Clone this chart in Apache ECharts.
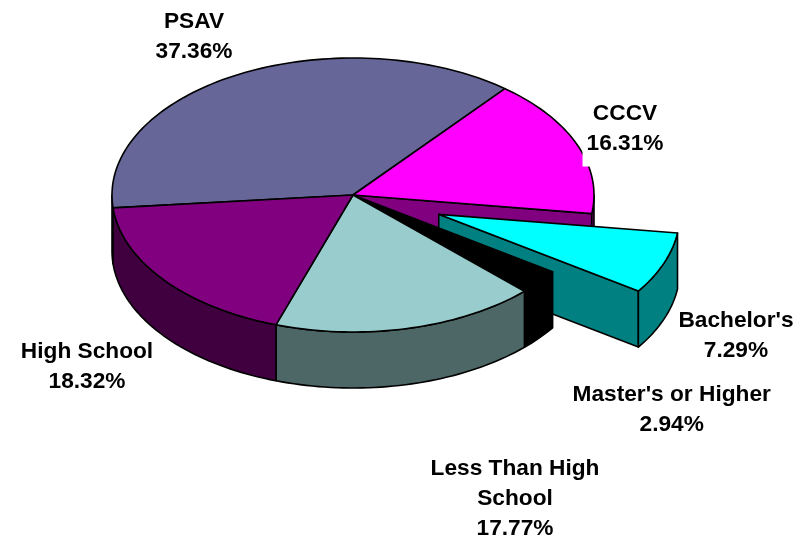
<!DOCTYPE html>
<html>
<head>
<meta charset="utf-8">
<style>html,body{margin:0;padding:0;background:#fff}#chart{width:807px;height:540px}</style>
<script src="https://cdn.jsdelivr.net/npm/echarts@6/dist/echarts.min.js"></script>
</head>
<body>
<div id="chart"></div>
<script>
// Data, in painting order (back to front, clockwise from the start angle)
const categories = ['PSAV', 'CCCV', "Bachelor's", "Master's or Higher", 'Less Than High\nSchool', 'High School'];
const shares = [37.36, 16.31, 7.29, 2.94, 17.77, 18.32];
const explodedCategory = "Bachelor's";

// Styles
const topColors = ['#666699', '#FF00FF', '#00FFFF', '#000000', '#99CCCC', '#800080'];
const wallColors = ['#333366', '#800080', '#008080', '#000000', '#4D6666', '#400040'];

// Layout of the pseudo-3D projection
const CX = 353, CY = 195, RX = 241, RY = 137, DEPTH = 56;
const START_DEG = 264.6;
const EXPLODE_X = 0.381, EXPLODE_Y = 0.395;
const FONT = "bold 22.7px 'Liberation Sans', Arial, sans-serif";
const labelAnchors = [[194, 36.5], [625, 128.5], [736, 336], [671.7, 410], [515, 499], [87, 367]];

const total = shares.reduce((a, b) => a + b, 0);
const toRad = d => d * Math.PI / 180;

function rim(deg, ox, oy, dz) {
  const t = toRad(deg);
  return [CX + ox + RX * Math.sin(t), CY + oy + dz - RY * Math.cos(t)];
}
function arc(from, to, ox, oy, dz) {
  const pts = [], n = Math.max(2, Math.ceil(Math.abs(to - from) / 1.5));
  for (let i = 0; i <= n; i++) pts.push(rim(from + (to - from) * i / n, ox, oy, dz));
  return pts;
}
function poly(points, fill) {
  return {
    type: 'polygon',
    shape: { points },
    style: { fill, stroke: '#000', lineWidth: 1.6, lineJoin: 'round' }
  };
}

function renderItem(params, api) {
  const idx = params.dataIndex;
  let before = 0;
  for (let i = 0; i < idx; i++) before += shares[i];
  const a0 = START_DEG + before / total * 360;
  const a1 = a0 + shares[idx] / total * 360;
  const mid = toRad((a0 + a1) / 2);
  const exploded = categories[idx] === explodedCategory;
  const ox = exploded ? EXPLODE_X * RX * Math.sin(mid) : 0;
  const oy = exploded ? -EXPLODE_Y * RY * Math.cos(mid) : 0;
  const children = [];
  const centre = [CX + ox, CY + oy];

  // radial wall on the trailing edge, when it faces the viewer
  const endNorm = ((a1 % 360) + 360) % 360;
  if (endNorm > 0 && endNorm < 180) {
    const p = rim(a1, ox, oy, 0);
    children.push(poly([centre, p, [p[0], p[1] + DEPTH], [centre[0], centre[1] + DEPTH]], wallColors[idx]));
  }
  // outer wall: the part of the rim on the front half (90..270, also +360)
  [[90, 270], [450, 630]].forEach(function (win) {
    const from = Math.max(a0, win[0]), to = Math.min(a1, win[1]);
    if (to > from) {
      const upper = arc(from, to, ox, oy, 0);
      const lower = arc(to, from, ox, oy, DEPTH);
      children.push(poly(upper.concat(lower), wallColors[idx]));
    }
  });
  // top face
  children.push(poly([centre].concat(arc(a0, a1, ox, oy, 0)), topColors[idx]));
  // label
  const style = {
    text: categories[idx] + '\n' + shares[idx].toFixed(2) + '%',
    font: FONT, fill: '#000', align: 'center', verticalAlign: 'middle', lineHeight: 30
  };
  if (categories[idx] === 'CCCV') { style.backgroundColor = '#fff'; style.padding = [8, 4]; }
  children.push({ type: 'text', x: labelAnchors[idx][0], y: labelAnchors[idx][1], style });
  return { type: 'group', children };
}

const chart = echarts.init(document.getElementById('chart'));
chart.setOption({
  animation: false,
  backgroundColor: '#fff',
  series: [{
    type: 'custom',
    coordinateSystem: 'none',
    silent: true,
    renderItem,
    data: categories.map((c, i) => ({ name: c, value: shares[i] }))
  }]
});
</script>
</body>
</html>
